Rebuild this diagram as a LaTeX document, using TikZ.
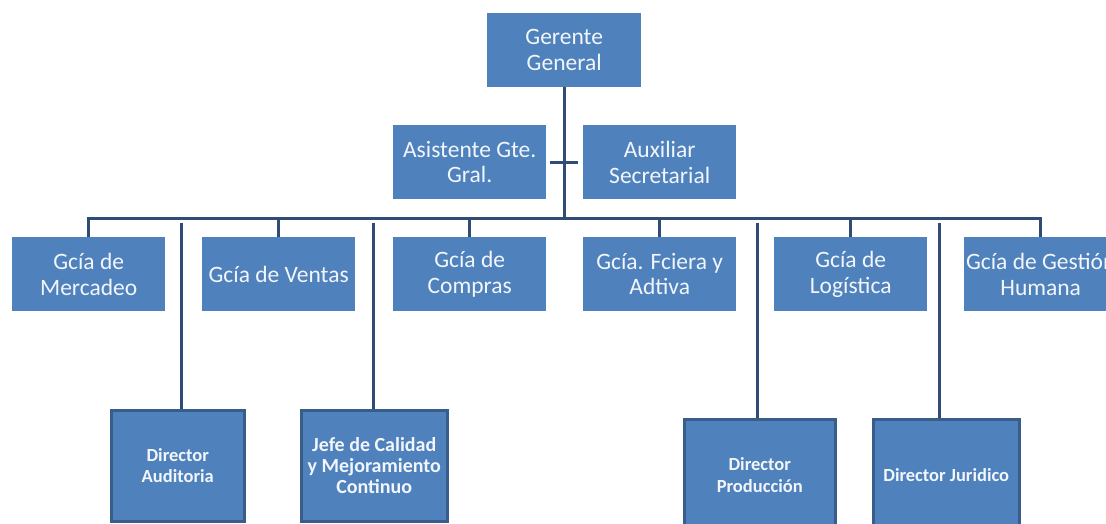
\documentclass[tikz,border=0pt]{standalone}
\usepackage{fontspec}
\setmainfont{Carlito}
\definecolor{boxblue}{HTML}{4F81BD}
\definecolor{linec}{HTML}{2F4D74}
\definecolor{edgec}{HTML}{385D8A}
\definecolor{txt}{HTML}{F2F6FB}
\begin{document}
\begin{tikzpicture}[x=1pt,y=-1pt,
  topbox/.style={fill=boxblue, draw=none, text=txt, anchor=north west, inner sep=0pt, align=center,
    minimum width=153pt, minimum height=74pt, font=\fontsize{23.5}{25.5}\selectfont},
  botbox/.style={fill=boxblue, draw=edgec, line width=2.5pt, text=txt, anchor=north west, inner sep=0pt, align=center,
    font=\bfseries\fontsize{18.5}{21.5}\selectfont},
  conn/.style={draw=linec, line width=3pt}]
\useasboundingbox (0,0) rectangle (1106,523);
\clip (0,0) rectangle (1106,523);
\fill[white] (0,0) rectangle (1106,523);

% top level
\node[topbox, minimum width=154pt] (gg) at (487,13) {Gerente\\General};
\node[topbox] (as) at (393,125) {Asistente Gte.\\Gral.};
\node[topbox] (au) at (583,125) {Auxiliar\\Secretarial};

% second level
\node[topbox] (m) at (12,237) {Gcía de\\Mercadeo};
\node[topbox] (v) at (202,237) {Gcía de Ventas};
\node[topbox] (c) at (393,237) {Gcía de\\Compras};
\node[topbox] (f) at (583,237) {Gcía. Fciera y\\Adtiva};
\node[topbox] (l) at (774,237) {Gcía de\\Logística};
\node[topbox] (h) at (964,237) {Gcía de Gestión\\Humana};

% bottom level
\node[botbox, minimum width=133pt, minimum height=111pt] (aud) at (110,409) {Director\\Auditoria};
\node[botbox, minimum width=146pt, minimum height=111pt, font=\bfseries\fontsize{20}{21}\selectfont] (cal) at (300,409) {Jefe de Calidad\\y Mejoramiento\\Continuo};
\node[botbox, minimum width=151pt, minimum height=112pt] (pro) at (683,418) {Director\\Producción};
\node[botbox, minimum width=146pt, minimum height=112pt] (jur) at (872,418) {Director Juridico};

% connectors
\coordinate (bus) at (0,218);
\draw[conn] (m.north) -- (m.north |- bus) -- (h.north |- bus) -- (h.north);
\draw[conn] (gg.south) -- (gg.south |- bus);
\foreach \n in {v,c,f,l}
  \draw[conn] (\n.north) -- (\n.north |- bus);
\draw[conn] ([xshift=4pt]as.east) -- ([xshift=-5pt]au.west);

\coordinate (t1) at (181,223);
\coordinate (t2) at (373,223);
\coordinate (t3) at (757,223);
\coordinate (t4) at (939,223);
\draw[conn] (t1) -- (t1 |- aud.north);
\draw[conn] (t2) -- (t2 |- cal.north);
\draw[conn] (t3) -- (t3 |- pro.north);
\draw[conn] (t4) -- (t4 |- jur.north);
\end{tikzpicture}
\end{document}
